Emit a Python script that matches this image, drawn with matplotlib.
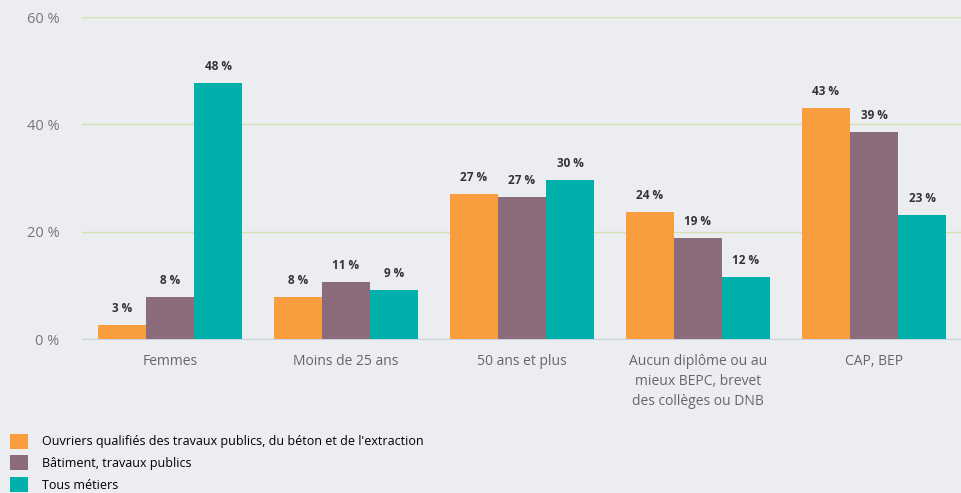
import numpy as np
import matplotlib.pyplot as plt
from matplotlib.patches import Patch

plt.rcParams['font.family'] = ['Open Sans', 'DejaVu Sans']

categories = ["Femmes", "Moins de 25 ans", "50 ans et plus",
              "Aucun diplôme ou au\nmieux BEPC, brevet\ndes collèges ou DNB", "CAP, BEP"]
series_names = ["Ouvriers qualifiés des travaux publics, du béton et de l'extraction",
                "Bâtiment, travaux publics",
                "Tous métiers"]
ouvriers = [2.6, 7.8, 27.0, 23.7, 43.0]
batiment = [7.8, 10.6, 26.5, 18.8, 38.6]
tous = [47.7, 9.1, 29.6, 11.6, 23.1]
ouvriers_lbl = [3, 8, 27, 24, 43]
batiment_lbl = [8, 11, 27, 19, 39]
tous_lbl = [48, 9, 30, 12, 23]
yticks = [0, 20, 40, 60]

colors = ["#f99d3e", "#8c6b7a", "#00b0aa"]
bg = "#ecedf0"

fig = plt.figure(figsize=(9.62, 4.93), dpi=100, facecolor=bg)
ax = fig.add_axes([0.0852, 0.312, 0.9148, 0.6535])
ax.set_facecolor(bg)

x = np.arange(len(categories))
w = 0.273
for k, (vals, lbls) in enumerate([(ouvriers, ouvriers_lbl), (batiment, batiment_lbl), (tous, tous_lbl)]):
    pos = x + (k - 1) * w
    ax.bar(pos, vals, width=w, color=colors[k], zorder=3)
    for p, v, l in zip(pos, vals, lbls):
        ax.text(p, v + 1.9, f"{l} %", ha="center", va="bottom", fontsize=8.5,
                fontweight="bold", color="#333333", zorder=4)

ax.set_xlim(-0.5, len(categories) - 0.5)
ax.set_ylim(0, 60)
ax.set_yticks(yticks)
ax.set_yticklabels([f"{t} %" for t in yticks])
ax.grid(axis="y", color="#d3e0b0", linewidth=1, zorder=0)
for s in ["top", "right", "left"]:
    ax.spines[s].set_visible(False)
ax.spines["bottom"].set_color("#c8d4e4")
ax.tick_params(axis="y", length=0, pad=16, labelsize=10.5, labelcolor="#777777")
ax.set_xticks(x)
ax.set_xticklabels(categories, fontsize=10, color="#666666", linespacing=1.45)
ax.tick_params(axis="x", length=0, pad=11)

handles = [Patch(facecolor=c, edgecolor="none") for c in colors]
fig.legend(handles, series_names, loc="upper left", bbox_to_anchor=(10 / 962, 0.12),
           frameon=False, fontsize=9, handlelength=1.44, handleheight=1.44,
           handletextpad=1.1, labelspacing=0.55, borderaxespad=0.0, borderpad=0.0)

fig.savefig("out.png", dpi=100, facecolor=bg)
